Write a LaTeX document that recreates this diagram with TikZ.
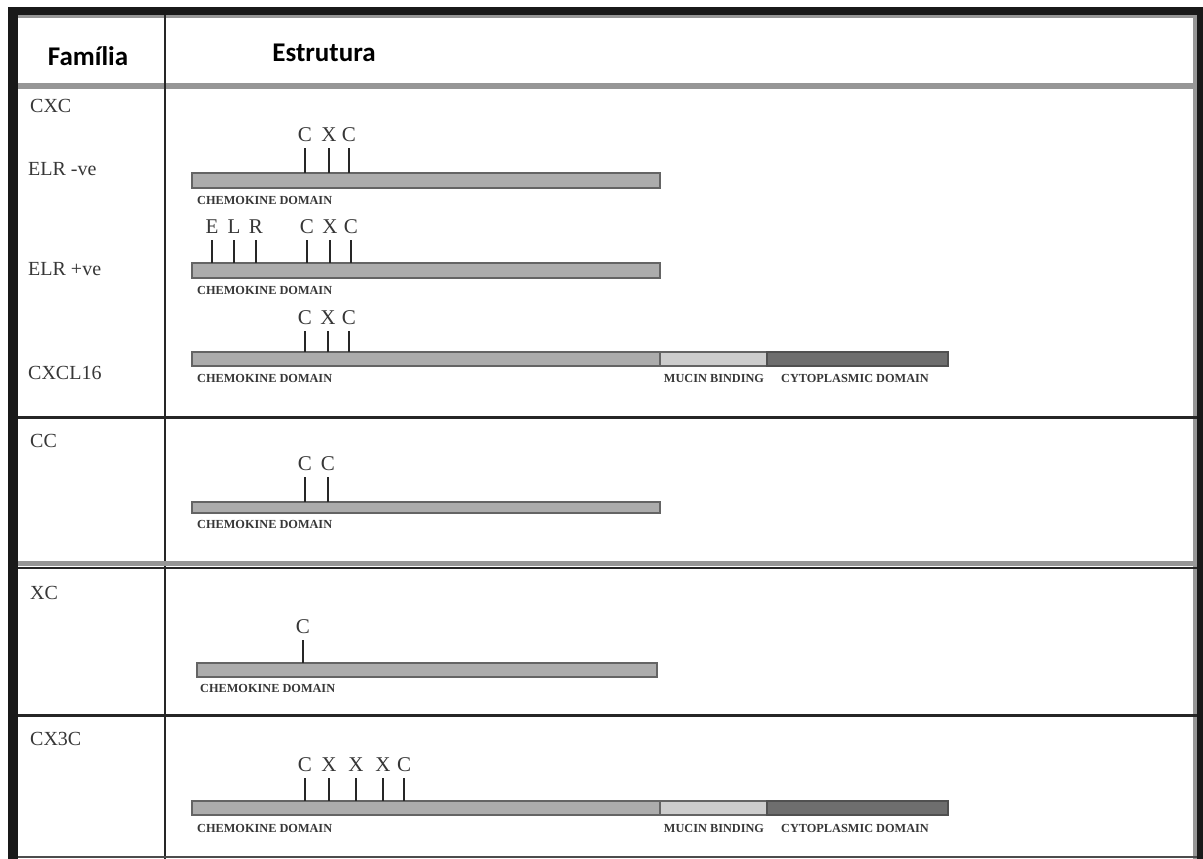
\documentclass[tikz,border=0pt]{standalone}
\usepackage{fontspec}
\setmainfont{Liberation Serif}
\newfontfamily\hdrfont{Carlito}
\definecolor{barfill}{RGB}{172,172,172}
\definecolor{barline}{RGB}{100,100,100}
\definecolor{mucfill}{RGB}{205,205,205}
\definecolor{cytfill}{RGB}{110,110,110}
\definecolor{txtgray}{RGB}{55,55,55}
\definecolor{sepgray}{RGB}{150,150,150}
\newcommand\tk[5]{% name, x, ytop, ybar, label
  \draw[tickline] (#2,#3) -- (#2,#4);
  \node[ticklbl] (#1) at (#2,#3-13) {#5};}
\begin{document}
\begin{tikzpicture}[x=1pt,y=-1pt,
  famlbl/.style={anchor=west,inner sep=0pt,text=txtgray,font=\fontsize{20}{23}\selectfont},
  hdrlbl/.style={inner sep=0pt,font=\hdrfont\bfseries\fontsize{27}{32}\selectfont},
  ticklbl/.style={inner sep=0pt,text=txtgray,font=\fontsize{21}{24}\selectfont},
  tickline/.style={line width=2pt,draw=black!85},
  chemobar/.style={fill=barfill,draw=barline,line width=1.5pt},
  mucbar/.style={fill=mucfill,draw=barline,line width=1.5pt},
  cytbar/.style={fill=cytfill,draw=barline!80!black,line width=1.5pt},
  domlbl/.style={anchor=west,inner sep=0pt,text=txtgray,font=\bfseries\fontsize{12.3}{14}\selectfont},
  domlblc/.style={inner sep=0pt,text=txtgray,font=\bfseries\fontsize{12.3}{14}\selectfont}]
\useasboundingbox (0,0) rectangle (1203,859);
\fill[white] (0,0) rectangle (1203,859);
% frame
\fill[sepgray] (18,15) rectangle (1197,18);
\fill[sepgray] (1193,15) rectangle (1197,859);
\fill[black!90] (8,7) rectangle (1203,15);
\fill[black!90] (8,7) rectangle (18,859);
\fill[black!90] (1197,7) rectangle (1203,859);
% header separator
\fill[sepgray] (18,83) rectangle (1197,89);
% column divider
\draw[line width=2pt,black!85] (165,15) -- (165,859);
% row separators
\draw[line width=3pt,black!85] (18,417) -- (1197,417);
\fill[sepgray] (18,561) rectangle (1197,566);
\draw[line width=2.5pt,black!85] (18,568) -- (1197,568);
\draw[line width=3pt,black!85] (18,715) -- (1197,715);
\draw[line width=2pt,black!70] (18,857) -- (1197,857);
% header
\node[hdrlbl] (hfam) at (88,56) {Família};
\node[hdrlbl] (hest) at (324,53) {Estrutura};
% family labels
\node[famlbl] (fcxc) at (30,106) {CXC};
\node[famlbl] (felrn) at (28,169) {ELR -ve};
\node[famlbl] (felrp) at (28,269) {ELR +ve};
\node[famlbl] (fcxcl) at (28,373) {CXCL16};
\node[famlbl] (fcc) at (30,441) {CC};
\node[famlbl] (fxc) at (30,593) {XC};
\node[famlbl] (fcx3c) at (30,739) {CX3C};
% ELR -ve
\draw[chemobar] (192,173) rectangle (660,188);
\tk{a1}{305}{148}{173}{C}
\tk{a2}{329}{148}{173}{X}
\tk{a3}{349}{148}{173}{C}
\node[domlbl] (da) at (197,200) {CHEMOKINE DOMAIN};
% ELR +ve
\draw[chemobar] (192,263) rectangle (660,278);
\tk{b1}{212}{240}{263}{E}
\tk{b2}{234}{240}{263}{L}
\tk{b3}{256}{240}{263}{R}
\tk{b4}{307}{240}{263}{C}
\tk{b5}{330}{240}{263}{X}
\tk{b6}{351}{240}{263}{C}
\node[domlbl] (db) at (197,290) {CHEMOKINE DOMAIN};
% CXCL16
\draw[chemobar] (192,352) rectangle (660,366);
\draw[mucbar] (660,352) rectangle (767,366);
\draw[cytbar] (767,352) rectangle (948,366);
\tk{c1}{305}{331}{352}{C}
\tk{c2}{328}{331}{352}{X}
\tk{c3}{349}{331}{352}{C}
\node[domlbl] (dc) at (197,378) {CHEMOKINE DOMAIN};
\node[domlblc] (mc) at (714,378) {MUCIN BINDING};
\node[domlblc] (yc) at (855,378) {CYTOPLASMIC DOMAIN};
% CC
\draw[chemobar] (192,502) rectangle (660,513);
\tk{d1}{305}{477}{502}{C}
\tk{d2}{328}{477}{502}{C}
\node[domlbl] (dd) at (197,524) {CHEMOKINE DOMAIN};
% XC
\draw[chemobar] (197,663) rectangle (657,677);
\tk{e1}{303}{640}{663}{C}
\node[domlbl] (de) at (200,688) {CHEMOKINE DOMAIN};
% CX3C
\draw[chemobar] (192,801) rectangle (660,815);
\draw[mucbar] (660,801) rectangle (767,815);
\draw[cytbar] (767,801) rectangle (948,815);
\tk{f1}{305}{778}{801}{C}
\tk{f2}{329}{778}{801}{X}
\tk{f3}{356}{778}{801}{X}
\tk{f4}{383}{778}{801}{X}
\tk{f5}{404}{778}{801}{C}
\node[domlbl] (df) at (197,828) {CHEMOKINE DOMAIN};
\node[domlblc] (mf) at (714,828) {MUCIN BINDING};
\node[domlblc] (yf) at (855,828) {CYTOPLASMIC DOMAIN};
\end{tikzpicture}
\end{document}
